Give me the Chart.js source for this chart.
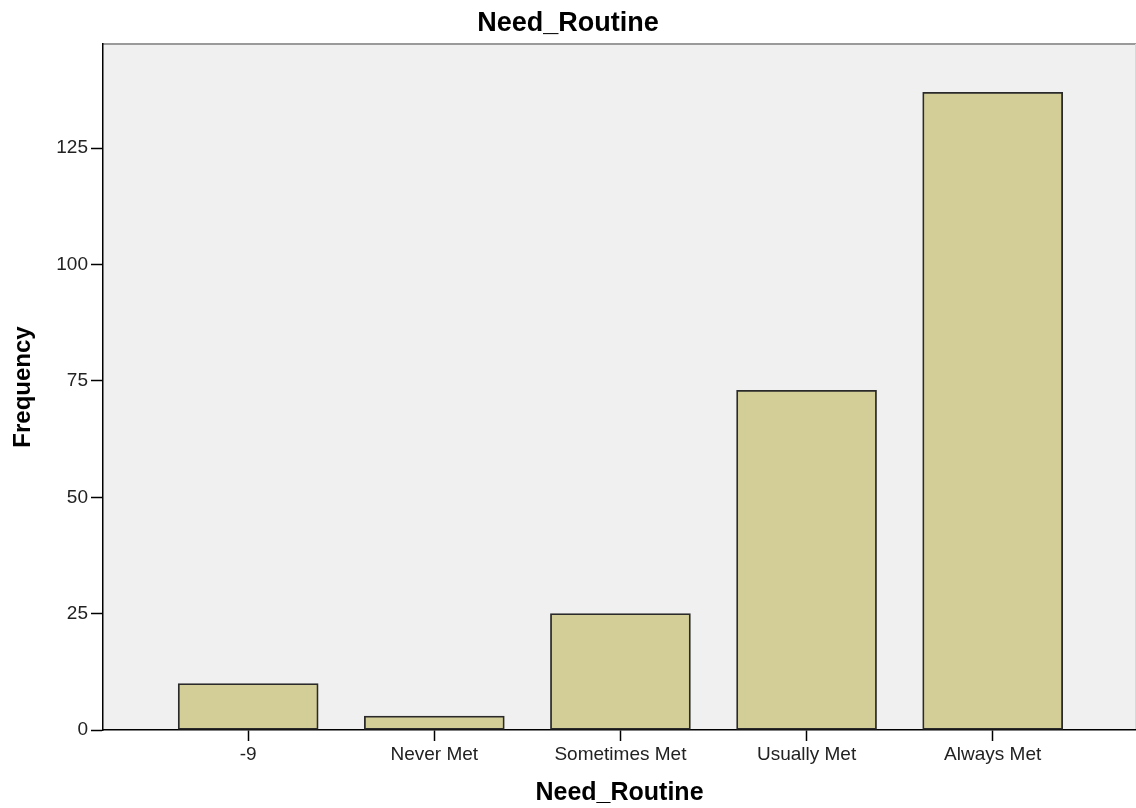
<!DOCTYPE html>
<html>
<head>
<meta charset="utf-8">
<script src="https://cdn.jsdelivr.net/npm/chart.js@4.4.1/dist/chart.umd.min.js"></script>
<style>
html,body{margin:0;padding:0;background:#fff;}
#wrap{width:1136px;height:808px;}
</style>
</head>
<body>
<div id="wrap"><canvas id="c" width="1136" height="808"></canvas></div>
<script>
const chartTitle = "Need_Routine";
const xAxisTitle = "Need_Routine";
const yAxisTitle = "Frequency";
const categories = ["-9", "Never Met", "Sometimes Met", "Usually Met", "Always Met"];
const frequencies = [10, 3, 25, 73, 137];
const yTickValues = [0, 25, 50, 75, 100, 125];

const FONT = 'Liberation Sans, Arial, sans-serif';

const plotBg = {
  id: 'plotBg',
  beforeDraw(chart) {
    const {ctx, chartArea: a} = chart;
    ctx.save();
    ctx.fillStyle = '#f0f0f0';
    ctx.fillRect(a.left, a.top, a.right - a.left, a.bottom - a.top);
    ctx.strokeStyle = '#9a9a9a';
    ctx.lineWidth = 2;
    ctx.beginPath();
    ctx.moveTo(a.left, a.top);
    ctx.lineTo(a.right, a.top);
    ctx.stroke();
    ctx.strokeStyle = '#d8d8d8';
    ctx.lineWidth = 1;
    ctx.beginPath();
    ctx.moveTo(a.right - 0.5, a.top);
    ctx.lineTo(a.right - 0.5, a.bottom);
    ctx.stroke();
    ctx.restore();
  }
};

new Chart(document.getElementById('c'), {
  type: 'bar',
  data: {
    datasets: [{
      data: categories.map((c, i) => ({x: i, y: frequencies[i]})),
      backgroundColor: '#d3ce97',
      borderColor: '#2a2a2a',
      borderWidth: 1.8,
      borderSkipped: false,
      barThickness: 140
    }]
  },
  options: {
    responsive: false,
    animation: false,
    layout: {padding: 0},
    plugins: {
      legend: {display: false},
      tooltip: {enabled: false},
      title: {
        display: true,
        text: chartTitle,
        color: '#000',
        font: {family: FONT, size: 27, weight: 'bold', lineHeight: 1.2},
        padding: {top: 7.5, bottom: 4.1}
      }
    },
    scales: {
      x: {
        type: 'linear',
        offset: false,
        min: -0.78,
        max: 4.77,
        afterBuildTicks: s => { s.ticks = categories.map((c, i) => ({value: i})); },
        afterFit: s => { s.height = 78; },
        ticks: {
          callback: v => categories[v],
          color: '#222',
          font: {family: FONT, size: 19},
          padding: 2,
          maxRotation: 0,
          autoSkip: false
        },
        grid: {drawOnChartArea: false, offset: false, color: '#000', tickLength: 11, tickWidth: 1.5},
        border: {color: '#000', width: 1.5},
        title: {
          display: true,
          text: xAxisTitle,
          color: '#000',
          font: {family: FONT, size: 25, weight: 'bold', lineHeight: 1.2},
          padding: {top: 0, bottom: 0}
        }
      },
      y: {
        min: 0,
        max: 147.4,
        afterBuildTicks: s => { s.ticks = yTickValues.map(v => ({value: v})); },
        afterFit: s => { s.width = 103; },
        ticks: {
          color: '#222',
          font: {family: FONT, size: 19},
          padding: 3
        },
        grid: {drawOnChartArea: false, color: '#000', tickLength: 12, tickWidth: 1.5},
        border: {color: '#000', width: 1.5},
        title: {
          display: true,
          text: yAxisTitle,
          color: '#000',
          font: {family: FONT, size: 24, weight: 'bold', lineHeight: 1.2},
          padding: {top: 9, bottom: 0}
        }
      }
    }
  },
  plugins: [plotBg]
});
</script>
</body>
</html>
